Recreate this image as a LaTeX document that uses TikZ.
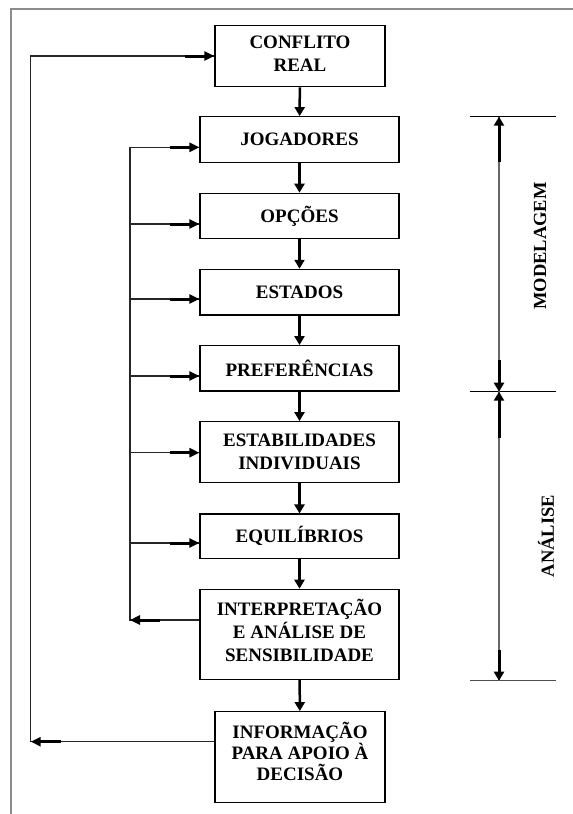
\documentclass[tikz,border=0pt]{standalone}
\usepackage{fontspec}
\setmainfont{Liberation Serif}
\usetikzlibrary{arrows.meta}
\begin{document}
\begin{tikzpicture}[x=1pt,y=-1pt,
  boxfont/.style={font=\bfseries\fontsize{19}{23}\selectfont},
  box/.style={draw=black, line width=1.2pt, align=center, inner sep=0pt, boxfont},
  bigbox/.style={box, minimum width=199pt},
  smallbox/.style={box, minimum width=170pt},
  boxtext/.style={align=center, inner sep=0pt, boxfont},
  flow/.style={line width=2.5pt, -{Triangle[length=9pt,width=10pt]}},
  link/.style={line width=1.3pt, draw=black!85},
  linkhead/.style={line width=3pt, -{Triangle[length=10pt,width=9pt]}},
  spanhead/.style={line width=3pt, -{Triangle[length=9pt,width=10pt]}},
  tick/.style={line width=1.3pt},
  span/.style={line width=1.5pt, draw=black!60},
  frame/.style={line width=2pt, draw=black!45},
  dimlabel/.style={inner sep=0pt, font=\bfseries\fontsize{18.5}{23}\selectfont},
]
\useasboundingbox (0,0) rectangle (573,814);

% page frame
\draw[frame] (10.5,814) -- (10.5,8.5) -- (573,8.5);

% process boxes
\node[smallbox, minimum height=61pt] (conf) at (300,56.2) {};
\node[boxtext] (conftxt) at (300,53.5) {CONFLITO\\REAL};
\node[bigbox, minimum height=46pt] (jog) at (299.5,139.7) {JOGADORES};
\node[bigbox, minimum height=45.4pt] (opc) at (299.5,216) {OPÇÕES};
\node[bigbox, minimum height=45.7pt] (est) at (299.5,292.2) {ESTADOS};
\node[bigbox, minimum height=45.3pt] (pref) at (299.5,368.3) {PREFERÊNCIAS};
\node[bigbox, minimum height=61pt] (estab) at (299.5,452.2) {ESTABILIDADES\\INDIVIDUAIS};
\node[bigbox, minimum height=44.3pt] (equi) at (299.5,536.2) {EQUILÍBRIOS};
\node[bigbox, minimum height=90pt] (interp) at (299.5,634.3) {};
\node[boxtext] (interptxt) at (299.5,630.5) {INTERPRETAÇÃO\\E ANÁLISE DE\\SENSIBILIDADE};
\node[smallbox, minimum height=91pt] (info) at (300,757.2) {};
\node[boxtext, font=\bfseries\fontsize{19}{21}\selectfont] (infotxt) at (300,751) {INFORMAÇÃO\\PARA APOIO À\\DECISÃO};

% main flow
\draw[flow] (conf) -- (jog);
\draw[flow] (jog) -- (opc);
\draw[flow] (opc) -- (est);
\draw[flow] (est) -- (pref);
\draw[flow] (pref) -- (estab);
\draw[flow] (estab) -- (equi);
\draw[flow] (equi) -- (interp);
\draw[flow] (interp) -- (info);

% inner feedback bus
\coordinate (i0) at (130,620);
\coordinate (b1) at (130,147.3);
\coordinate (b2) at (130,224);
\coordinate (b3) at (130,299);
\coordinate (b4) at (130,376);
\coordinate (b5) at (130,452.7);
\coordinate (b6) at (130,543);
\draw[link] (interp.west |- i0) -- (i0) -- (b1) -- (b1 -| jog.west);
\draw[link] (b2) -- (b2 -| opc.west);
\draw[link] (b3) -- (b3 -| est.west);
\draw[link] (b4) -- (b4 -| pref.west);
\draw[link] (b5) -- (b5 -| estab.west);
\draw[link] (b6) -- (b6 -| equi.west);
\draw[linkhead] ([xshift=30pt]i0) -- (i0);
\draw[linkhead] ([xshift=-29pt]b1 -| jog.west) -- (b1 -| jog.west);
\draw[linkhead] ([xshift=-29pt]b2 -| opc.west) -- (b2 -| opc.west);
\draw[linkhead] ([xshift=-29pt]b3 -| est.west) -- (b3 -| est.west);
\draw[linkhead] ([xshift=-29pt]b4 -| pref.west) -- (b4 -| pref.west);
\draw[linkhead] ([xshift=-29pt]b5 -| estab.west) -- (b5 -| estab.west);
\draw[linkhead] ([xshift=-29pt]b6 -| equi.west) -- (b6 -| equi.west);

% outer feedback loop
\coordinate (o1) at (30.7,56);
\coordinate (o2) at (30.7,741.7);
\draw[link] (info.west |- o2) -- (o2) -- (o1) -- (o1 -| conf.west);
\draw[linkhead] ([xshift=30pt]o2) -- (o2);
\draw[linkhead] ([xshift=-29pt]o1 -| conf.west) -- (o1 -| conf.west);

% phase dimension lines
\coordinate (m1) at (499,116.7);
\coordinate (m2) at (499,391.7);
\coordinate (m3) at (499,680.7);
\draw[tick] (470,116.7) -- (556,116.7);
\draw[tick] (470,391.7) -- (556,391.7);
\draw[tick, draw=black!70] (470,680.7) -- (556,680.7);
\draw[span] (m1) -- (m3);
\draw[spanhead] ([yshift=-45pt]m1) -- (m1);
\draw[spanhead] ([yshift=32pt]m2) -- (m2);
\draw[spanhead] ([yshift=-46pt]m2) -- (m2);
\draw[spanhead] ([yshift=31pt]m3) -- (m3);
\node[dimlabel, rotate=90] (modlbl) at (540,246) {MODELAGEM};
\node[dimlabel, rotate=90] (anlbl) at (546,536) {ANÁLISE};
\end{tikzpicture}
\end{document}
